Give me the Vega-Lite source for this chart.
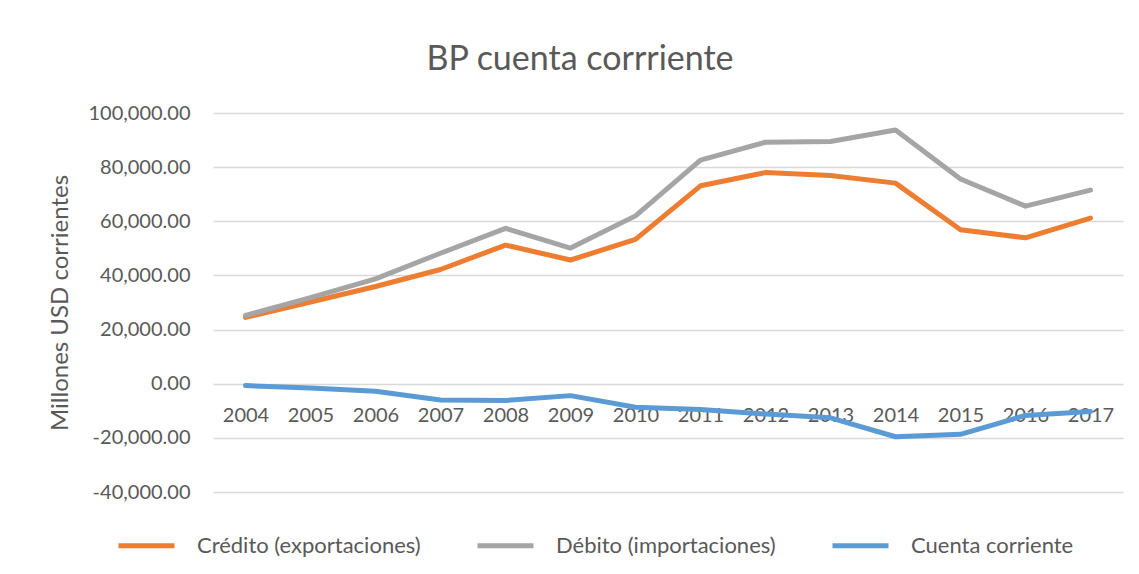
{
  "$schema": "https://vega.github.io/schema/vega-lite/v6.json",
  "width": 910,
  "height": 379,
  "autosize": {"type": "none"},
  "padding": {"left": 213, "top": 113, "right": 16, "bottom": 82},
  "background": "white",
  "title": {
    "text": "BP cuenta corrriente",
    "font": "Lato",
    "fontSize": 34,
    "fontWeight": "normal",
    "color": "#595959",
    "anchor": "middle",
    "frame": "group",
    "dx": -88,
    "offset": 26
  },
  "config": {
    "view": {"stroke": null},
    "font": "Lato"
  },
  "data": {
    "values": [
      {"year": "2004", "series": "Crédito (exportaciones)", "value": 24500},
      {"year": "2005", "series": "Crédito (exportaciones)", "value": 30200},
      {"year": "2006", "series": "Crédito (exportaciones)", "value": 35900},
      {"year": "2007", "series": "Crédito (exportaciones)", "value": 42200},
      {"year": "2008", "series": "Crédito (exportaciones)", "value": 51200},
      {"year": "2009", "series": "Crédito (exportaciones)", "value": 45700},
      {"year": "2010", "series": "Crédito (exportaciones)", "value": 53300},
      {"year": "2011", "series": "Crédito (exportaciones)", "value": 73100},
      {"year": "2012", "series": "Crédito (exportaciones)", "value": 78000},
      {"year": "2013", "series": "Crédito (exportaciones)", "value": 76900},
      {"year": "2014", "series": "Crédito (exportaciones)", "value": 74100},
      {"year": "2015", "series": "Crédito (exportaciones)", "value": 56900},
      {"year": "2016", "series": "Crédito (exportaciones)", "value": 53900},
      {"year": "2017", "series": "Crédito (exportaciones)", "value": 61200},
      {"year": "2004", "series": "Débito (importaciones)", "value": 25200},
      {"year": "2005", "series": "Débito (importaciones)", "value": 31800},
      {"year": "2006", "series": "Débito (importaciones)", "value": 38700},
      {"year": "2007", "series": "Débito (importaciones)", "value": 48200},
      {"year": "2008", "series": "Débito (importaciones)", "value": 57400},
      {"year": "2009", "series": "Débito (importaciones)", "value": 50100},
      {"year": "2010", "series": "Débito (importaciones)", "value": 62000},
      {"year": "2011", "series": "Débito (importaciones)", "value": 82600},
      {"year": "2012", "series": "Débito (importaciones)", "value": 89200},
      {"year": "2013", "series": "Débito (importaciones)", "value": 89500},
      {"year": "2014", "series": "Débito (importaciones)", "value": 93700},
      {"year": "2015", "series": "Débito (importaciones)", "value": 75600},
      {"year": "2016", "series": "Débito (importaciones)", "value": 65600},
      {"year": "2017", "series": "Débito (importaciones)", "value": 71500},
      {"year": "2004", "series": "Cuenta corriente", "value": -700},
      {"year": "2005", "series": "Cuenta corriente", "value": -1600},
      {"year": "2006", "series": "Cuenta corriente", "value": -2800},
      {"year": "2007", "series": "Cuenta corriente", "value": -6000},
      {"year": "2008", "series": "Cuenta corriente", "value": -6200},
      {"year": "2009", "series": "Cuenta corriente", "value": -4400},
      {"year": "2010", "series": "Cuenta corriente", "value": -8700},
      {"year": "2011", "series": "Cuenta corriente", "value": -9500},
      {"year": "2012", "series": "Cuenta corriente", "value": -11200},
      {"year": "2013", "series": "Cuenta corriente", "value": -12600},
      {"year": "2014", "series": "Cuenta corriente", "value": -19600},
      {"year": "2015", "series": "Cuenta corriente", "value": -18700},
      {"year": "2016", "series": "Cuenta corriente", "value": -11700},
      {"year": "2017", "series": "Cuenta corriente", "value": -10300}
    ]
  },
  "mark": {"type": "line", "strokeWidth": 5, "strokeCap": "round", "strokeJoin": "round"},
  "encoding": {
    "x": {
      "field": "year",
      "type": "ordinal",
      "scale": {"type": "point", "padding": 0.5},
      "axis": {
        "title": null,
        "labelAngle": 0,
        "labelFont": "Lato",
        "labelFontSize": 20,
        "labelColor": "#595959",
        "labelPadding": 21,
        "domain": false,
        "ticks": false,
        "grid": false,
        "offset": -108
      }
    },
    "y": {
      "field": "value",
      "type": "quantitative",
      "scale": {"domain": [-40000, 100000], "nice": false, "zero": false},
      "axis": {
        "title": "Millones USD corrientes",
        "titleFont": "Lato",
        "titleFontSize": 24,
        "titleFontWeight": "normal",
        "titleColor": "#595959",
        "titlePadding": 15,
        "values": [-40000, -20000, 0, 20000, 40000, 60000, 80000, 100000],
        "format": ",.2f",
        "labelExpr": "replace(datum.label, '\u2212', '-')",
        "labelFont": "Lato",
        "labelFontSize": 20,
        "labelColor": "#595959",
        "labelPadding": 23,
        "ticks": false,
        "domain": false,
        "grid": true,
        "gridColor": "#d9d9d9",
        "gridWidth": 1.5
      }
    },
    "color": {
      "field": "series",
      "type": "nominal",
      "scale": {
        "domain": ["Crédito (exportaciones)", "Débito (importaciones)", "Cuenta corriente"],
        "range": ["#ED7D31", "#A5A5A5", "#5B9BD5"]
      },
      "legend": {
        "title": null,
        "orient": "none",
        "direction": "horizontal",
        "legendX": -97,
        "legendY": 402,
        "columns": 3,
        "symbolType": "stroke",
        "symbolSize": 3136,
        "symbolStrokeWidth": 5,
        "labelFont": "Lato",
        "labelFontSize": 22,
        "labelColor": "#595959",
        "labelOffset": 20,
        "labelLimit": 0,
        "columnPadding": 46
      }
    },
    "order": {"value": 0}
  }
}
